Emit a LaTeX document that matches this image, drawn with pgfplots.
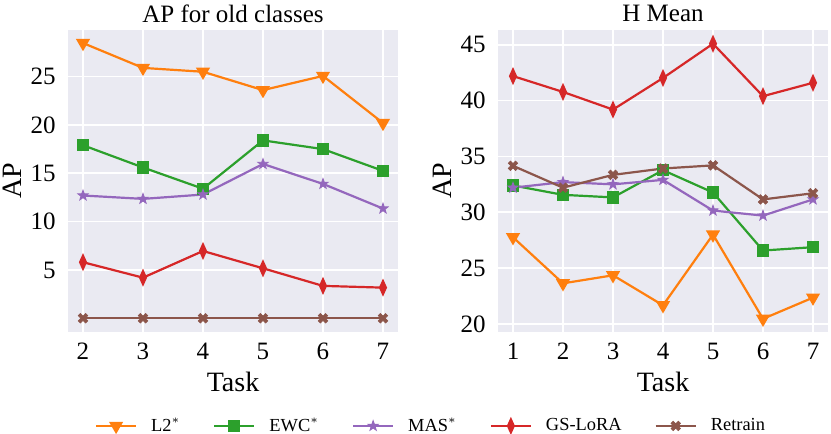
\documentclass[border=0pt]{standalone}
\usepackage{pgfplots}
\pgfplotsset{compat=1.18}
\usepackage{fontspec}
\setmainfont{Liberation Serif}
\definecolor{bgc}{HTML}{EAEAF2}
\definecolor{cL}{HTML}{FF7F0E}
\definecolor{cE}{HTML}{2CA02C}
\definecolor{cM}{HTML}{9467BD}
\definecolor{cG}{HTML}{D62728}
\definecolor{cR}{HTML}{8C564B}
\pgfdeclareplotmark{fstar}{%
 \pgfpathmoveto{\pgfqpointpolar{90}{\pgfplotmarksize}}%
 \pgfpathlineto{\pgfqpointpolar{126}{0.40\pgfplotmarksize}}%
 \pgfpathlineto{\pgfqpointpolar{162}{\pgfplotmarksize}}%
 \pgfpathlineto{\pgfqpointpolar{198}{0.40\pgfplotmarksize}}%
 \pgfpathlineto{\pgfqpointpolar{234}{\pgfplotmarksize}}%
 \pgfpathlineto{\pgfqpointpolar{270}{0.40\pgfplotmarksize}}%
 \pgfpathlineto{\pgfqpointpolar{306}{\pgfplotmarksize}}%
 \pgfpathlineto{\pgfqpointpolar{342}{0.40\pgfplotmarksize}}%
 \pgfpathlineto{\pgfqpointpolar{18}{\pgfplotmarksize}}%
 \pgfpathlineto{\pgfqpointpolar{54}{0.40\pgfplotmarksize}}%
 \pgfpathclose\pgfusepathqfillstroke}
\pgfdeclareplotmark{fx}{%
 \pgftransformrotate{45}%
 \pgfpathmoveto{\pgfqpoint{0.3\pgfplotmarksize}{\pgfplotmarksize}}%
 \pgfpathlineto{\pgfqpoint{0.3\pgfplotmarksize}{0.3\pgfplotmarksize}}%
 \pgfpathlineto{\pgfqpoint{\pgfplotmarksize}{0.3\pgfplotmarksize}}%
 \pgfpathlineto{\pgfqpoint{\pgfplotmarksize}{-0.3\pgfplotmarksize}}%
 \pgfpathlineto{\pgfqpoint{0.3\pgfplotmarksize}{-0.3\pgfplotmarksize}}%
 \pgfpathlineto{\pgfqpoint{0.3\pgfplotmarksize}{-\pgfplotmarksize}}%
 \pgfpathlineto{\pgfqpoint{-0.3\pgfplotmarksize}{-\pgfplotmarksize}}%
 \pgfpathlineto{\pgfqpoint{-0.3\pgfplotmarksize}{-0.3\pgfplotmarksize}}%
 \pgfpathlineto{\pgfqpoint{-\pgfplotmarksize}{-0.3\pgfplotmarksize}}%
 \pgfpathlineto{\pgfqpoint{-\pgfplotmarksize}{0.3\pgfplotmarksize}}%
 \pgfpathlineto{\pgfqpoint{-0.3\pgfplotmarksize}{0.3\pgfplotmarksize}}%
 \pgfpathlineto{\pgfqpoint{-0.3\pgfplotmarksize}{\pgfplotmarksize}}%
 \pgfpathclose\pgfusepathqfillstroke}
\pgfplotsset{
  sty/.style={
    scale only axis, width=165pt, height=151pt,
    axis background/.style={fill=bgc},
    axis line style={draw=none},
    major tick length=0pt,
    grid=major,
    grid style={white, line width=0.8pt},
    /pgf/number format/assume math mode=true,
    xticklabel={\rmfamily\pgfmathprintnumber[assume math mode=true]{\tick}},
    yticklabel={\rmfamily\pgfmathprintnumber[assume math mode=true]{\tick}},
    tick label style={font=\rmfamily\fontsize{12.5}{15}\selectfont},
    xticklabel style={anchor=north, inner sep=0pt, yshift=-5.5pt},
    yticklabel style={anchor=east, inner sep=0pt, xshift=-6pt},
    every axis title shift=0pt,
    title style={font=\fontsize{12.5}{15}\selectfont, at={(axis description cs:0.5,1)}, anchor=base, yshift=4pt},
    label style={font=\fontsize{14}{16}\selectfont},
    xlabel style={at={(axis description cs:0.5,0)}, anchor=base, yshift=-29.5pt},
    ylabel style={at={(axis description cs:-0.1697,0.5)}, anchor=center},
    every axis plot/.append style={line width=1.1pt},
    legend image code/.code={\draw[mark repeat=2,mark phase=2] plot coordinates {(0pt,0pt) (10pt,0pt) (20pt,0pt)};},
  },
  pL/.style={color=cL, mark=triangle*, mark size=3pt, mark options={rotate=180, fill=cL}},
  pE/.style={color=cE, mark=square*, mark size=2.5pt, mark options={fill=cE}},
  pM/.style={color=cM, mark=fstar, mark size=2.7pt, mark options={fill=cM, line width=0.4pt}},
  pG/.style={color=cG, mark=diamond*, mark size=3.2pt, mark options={xscale=0.6, fill=cG}},
  pR/.style={color=cR, mark=fx, mark size=2.6pt, mark options={fill=cR, line width=0.3pt}},
}
\begin{document}
\begin{tikzpicture}
\begin{axis}[sty, name=L,
  title={AP for old classes}, xlabel={Task}, ylabel={AP},
  xmin=1.75, xmax=7.25, ymin=-1.42, ymax=29.82,
  xtick={2,3,4,5,6,7}, ytick={5,10,15,20,25},
  legend columns=5,
  legend style={at={(axis description cs:1.097,-0.311)}, anchor=center, draw=none, fill=none,
    font=\fontsize{9.2}{11}\selectfont, nodes={inner sep=0pt},
    /tikz/every odd column/.append style={column sep=7pt},
    /tikz/every even column/.append style={column sep=16.5pt}},
]
\addplot[pL] coordinates {(2,28.47) (3,25.9) (4,25.5) (5,23.6) (6,25.07) (7,20.2)};
\addlegendentry{L2$^*$}
\addplot[pE] coordinates {(2,17.9) (3,15.6) (4,13.4) (5,18.4) (6,17.5) (7,15.25)};
\addlegendentry{EWC$^*$}
\addplot[pM] coordinates {(2,12.7) (3,12.35) (4,12.8) (5,15.96) (6,13.9) (7,11.35)};
\addlegendentry{MAS$^*$}
\addplot[pG] coordinates {(2,5.8) (3,4.2) (4,6.96) (5,5.17) (6,3.35) (7,3.17)};
\addlegendentry{GS-LoRA}
\addplot[pR] coordinates {(2,0) (3,0) (4,0) (5,0) (6,0) (7,0)};
\addlegendentry{Retrain}
\end{axis}
\begin{axis}[sty, name=R, at={(L.south west)}, anchor=south west, xshift=215pt,
  title={H Mean}, xlabel={Task}, ylabel={AP},
  xmin=0.7, xmax=7.3, ymin=19.27, ymax=46.33,
  xtick={1,2,3,4,5,6,7}, ytick={20,25,30,35,40,45},
]
\addplot[pL] coordinates {(1,27.76) (2,23.63) (3,24.35) (4,21.66) (5,28.0) (6,20.45) (7,22.35)};
\addplot[pE] coordinates {(1,32.4) (2,31.56) (3,31.33) (4,33.77) (5,31.77) (6,26.57) (7,26.87)};
\addplot[pM] coordinates {(1,32.2) (2,32.7) (3,32.5) (4,32.9) (5,30.15) (6,29.7) (7,31.15)};
\addplot[pG] coordinates {(1,42.2) (2,40.78) (3,39.2) (4,42.03) (5,45.1) (6,40.4) (7,41.6)};
\addplot[pR] coordinates {(1,34.16) (2,32.2) (3,33.35) (4,33.92) (5,34.2) (6,31.15) (7,31.7)};
\end{axis}
\pgfresetboundingbox
\path[use as bounding box] ([shift={(-34pt,-51pt)}]L.south west) rectangle ([shift={(381.5pt,166pt)}]L.south west);
\end{tikzpicture}
\end{document}
